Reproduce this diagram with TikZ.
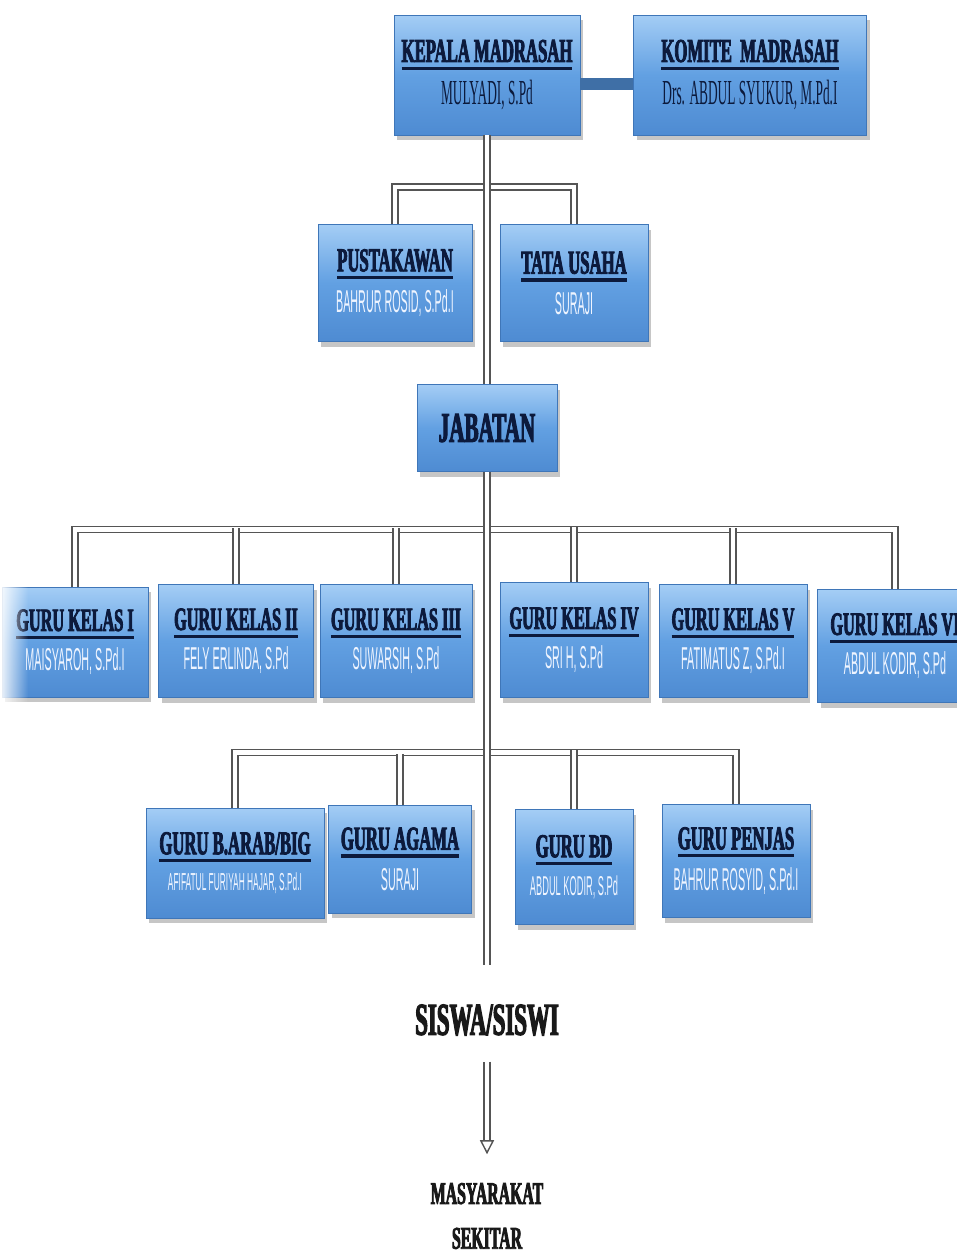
\documentclass[tikz,border=0pt]{standalone}
\usepackage{fontspec}
\usepackage{tikz}
\usetikzlibrary{arrows.meta,shadows,fadings}
\newfontfamily\hdfont[FakeStretch=0.5,FakeBold=2.5]{Liberation Serif Bold}
\newfontfamily\nmserif[FakeStretch=0.38]{Liberation Serif}
\newfontfamily\nmsans[FakeStretch=0.34]{Liberation Sans}
\definecolor{boxtop}{HTML}{A4CDF5}
\definecolor{boxmid}{HTML}{62A0E2}
\definecolor{boxbot}{HTML}{4E8BD2}
\definecolor{boxedge}{HTML}{3F76B8}
\definecolor{hdnavy}{HTML}{0C1A3C}
\definecolor{nmwhite}{HTML}{EEF4FF}
\definecolor{linkgray}{HTML}{555555}
\definecolor{barblue}{HTML}{3F6FA6}
\newcommand{\hd}[2][18.5]{\vtop{\hbox{\hdfont\fontsize{#1}{#1}\selectfont #2}\kern2.5pt\hrule height 1.8pt}}
\newcommand{\ttl}[2][24]{{\hdfont\fontsize{#1}{#1}\selectfont #2}}
\newcommand{\nmw}[2][18]{{\nmsans\fontsize{#1}{#1}\selectfont\color{nmwhite}#2}}
\newcommand{\nmd}[2][20]{{\nmserif\fontsize{#1}{#1}\selectfont #2}}
\tikzset{
  box/.style={rectangle,draw=boxedge,line width=0.4pt,top color=boxtop,bottom color=boxbot,middle color=boxmid,
    drop shadow={opacity=0.45,shadow xshift=0.6mm,shadow yshift=-1mm},align=center,inner sep=0pt,text=hdnavy},
  sz/.style 2 args={minimum width=#1*0.2mm,minimum height=#2*0.2mm},
  link/.style={draw=linkgray,line width=0.8pt,double=white,double distance=2.6pt}
}

\begin{document}
\begin{tikzpicture}[x=0.2mm,y=-0.2mm]
\useasboundingbox (0,0) rectangle (957,1258);
\clip (0,0) rectangle (957,1258);

% pimpinan
\node[box,sz={186}{120}] (kepala) at (487,75) {\hd[19]{KEPALA MADRASAH}\\[5pt]\nmd{MULYADI, S.Pd}};
\node[box,sz={233}{120}] (komite) at (750,75) {\hd[19]{KOMITE\ \ MADRASAH}\\[5pt]\nmd{Drs. ABDUL SYUKUR, M.Pd.I}};
\draw[line width=6.5pt,draw=barblue] ([yshift=-0.18cm]kepala.east) -- ([yshift=-0.18cm]komite.west);

\node[box,sz={154}{117}] (pustaka) at (395,283) {\hd[19]{PUSTAKAWAN}\\[5pt]\nmw{BAHRUR ROSID, S.Pd.I}};
\node[box,sz={148}{117}] (tatausaha) at (574,283) {\hd[19]{TATA USAHA}\\[5pt]\nmw{SURAJI}};
\node[box,sz={140}{87}] (jabatan) at (487,428) {\ttl{JABATAN}};

% guru kelas
\node[box,sz={146}{110}] (kelas1) at (75,642) {\hd{GURU KELAS I}\\[4pt]\nmw{MAISYAROH, S.Pd.I}};
\node[box,sz={155}{113}] (kelas2) at (236,641) {\hd{GURU KELAS II}\\[4pt]\nmw{FELY ERLINDA, S.Pd}};
\node[box,sz={152}{113}] (kelas3) at (396,641) {\hd{GURU KELAS III}\\[4pt]\nmw{SUWARSIH, S.Pd}};
\node[box,sz={148}{115}] (kelas4) at (574,640) {\hd{GURU KELAS IV}\\[4pt]\nmw{SRI H, S.Pd}};
\node[box,sz={148}{113}] (kelas5) at (733,641) {\hd{GURU KELAS V}\\[4pt]\nmw{FATIMATUS Z, S.Pd.I}};
\node[box,sz={155}{113}] (kelas6) at (895,646) {\hd{GURU KELAS VI}\\[4pt]\nmw{ABDUL KODIR, S.Pd}};
\fill[white,path fading=east] (-2,578) rectangle (28,712);

% guru bidang
\node[box,sz={178}{110}] (arab) at (235,863) {\hd[19]{GURU B.ARAB/BIG}\\[5pt]\nmw[14]{AFIFATUL FURIYAH HAJAR, S.Pd.I}};
\node[box,sz={143}{108}] (agama) at (400,859) {\hd[19]{GURU AGAMA}\\[5pt]\nmw{SURAJI}};
\node[box,sz={118}{115}] (bd) at (574,867) {\hd[19]{GURU BD}\\[5pt]\nmw[15.5]{ABDUL KODIR, S.Pd}};
\node[box,sz={148}{113}] (penjas) at (736,861) {\hd[19]{GURU PENJAS}\\[5pt]\nmw{BAHRUR ROSYID, S.Pd.I}};

\node[text=black!90] (siswa) at (487,1020) {\ttl[26]{SISWA/SISWI}};
\node[align=center,text=black!90,font=\hdfont\fontsize{18}{25.5}\selectfont] (masy) at (487,1216) {MASYARAKAT\\SEKITAR};
\coordinate (ujung) at (487,965);

% garis
\draw[link] (pustaka.north) -- ++(0,-37) -| (tatausaha.north);
\draw[link] (kelas1.north) -- ++(0,-57) -| (kelas6.north);
\draw[link] (kelas2.north) -- ++(0,-56) (kelas3.north) -- ++(0,-56)
  (kelas4.north) -- ++(0,-55) (kelas5.north) -- ++(0,-56);
\draw[link] (arab.north) -- ++(0,-55) -| (penjas.north);
\draw[link] (agama.north) -- ++(0,-51) (bd.north) -- ++(0,-59);
\draw[link] (kepala.south) -- (jabatan.north);
\draw[link] (jabatan.south) -- (ujung);
\draw[link,-{Triangle[open,length=8pt,width=8pt]},shorten <=0.4cm,shorten >=0.45cm] (siswa.south) -- (masy.north);
\end{tikzpicture}
\end{document}
